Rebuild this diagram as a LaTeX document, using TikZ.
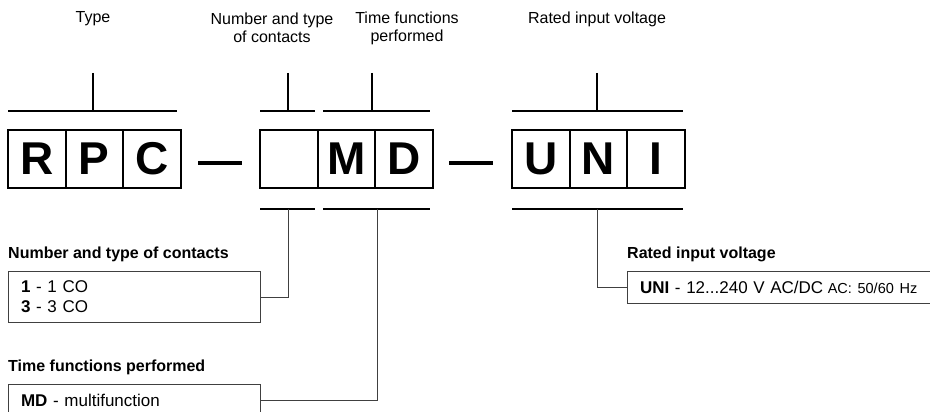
\documentclass[tikz,border=0pt]{standalone}
\usepackage{fontspec}
\setmainfont{Liberation Sans}
\begin{document}
\begin{tikzpicture}[x=1pt,y=-1pt,
  cell/.style={draw, line width=0.8pt, minimum width=56.7pt, minimum height=57pt, inner sep=0pt,
    font=\fontsize{46}{46}\selectfont\bfseries, anchor=north west},
  grp/.style={line width=2pt},
  brk/.style={line width=1.4pt},
  lnk/.style={line width=1pt, draw=black!75},
  dashbar/.style={line width=4pt},
  toplab/.style={font=\fontsize{16}{18}\selectfont, align=center, inner sep=0pt},
  hdr/.style={font=\fontsize{16}{18}\selectfont\bfseries, anchor=west, inner sep=0pt},
  opt/.style={draw=black!75, line width=1pt, anchor=north west,
    font=\fontsize{17}{20}\selectfont, align=left, inner xsep=12.5pt, inner ysep=0pt}
]
\useasboundingbox (0,0) rectangle (930,412);

% top labels
\node[toplab] (ltype) at (93,19) {Type};
\node[toplab] (lcont) at (272,28) {Number and type\\of contacts};
\node[toplab] (ltime) at (407,28) {Time functions\\performed};
\node[toplab] (lvolt) at (597,19) {Rated input voltage};

% top brackets
\draw[brk] (8,111) -- (177,111);   \draw[brk] (93,73) -- (93,111);
\draw[brk] (260,111) -- (315,111); \draw[brk] (288,73) -- (288,111);
\draw[brk] (323,111) -- (430,111); \draw[brk] (372,73) -- (372,111);
\draw[brk] (512,111) -- (683,111); \draw[brk] (597,73) -- (597,111);

% cells
\node[cell] (r) at (8,130) {R};
\node[cell] (p) at (r.north east) {P};
\node[cell] (c) at (p.north east) {C};
\draw[grp] (r.north west) rectangle (c.south east);

\node[cell] (x) at (260,130) {};
\node[cell] (m) at (x.north east) {M};
\node[cell] (d) at (m.north east) {D};
\draw[grp] (x.north west) rectangle (d.south east);

\node[cell] (u) at (512,130) {U};
\node[cell] (n) at (u.north east) {N};
\node[cell] (i) at (n.north east) {I};
\draw[grp] (u.north west) rectangle (i.south east);

% dashes
\draw[dashbar] (198,163) -- (242,163);
\draw[dashbar] (449,163) -- (493,163);

% bottom brackets
\draw[brk] (260,209) -- (315,209); \coordinate (b2) at (288,209);
\draw[brk] (323,209) -- (430,209); \coordinate (b3) at (377,209);
\draw[brk] (512,209) -- (683,209); \coordinate (b4) at (597,209);

% headers
\node[hdr] (hcont) at (8,254) {Number and type of contacts};
\node[hdr] (htime) at (8,367) {Time functions performed};
\node[hdr] (hvolt) at (627,254) {Rated input voltage};

% option boxes
\node[opt, text width=227pt, minimum height=51pt] (cont) at (8,271)
  {\textbf{1} - 1 CO\\\textbf{3} - 3 CO};
\node[opt, text width=227pt, minimum height=32pt] (md) at (8,384)
  {\textbf{MD} - multifunction};
\node[opt, text width=290pt, minimum height=32pt] (uni) at (627,271)
  {\textbf{UNI} - 12...240 V AC/DC\hspace{4.5pt}{\fontsize{14.5}{16}\selectfont AC: 50/60 Hz}};

% connectors
\draw[lnk] (cont.east) -| (b2);
\draw[lnk] (md.east) -| (b3);
\draw[lnk] (uni.west) -| (b4);
\end{tikzpicture}
\end{document}
